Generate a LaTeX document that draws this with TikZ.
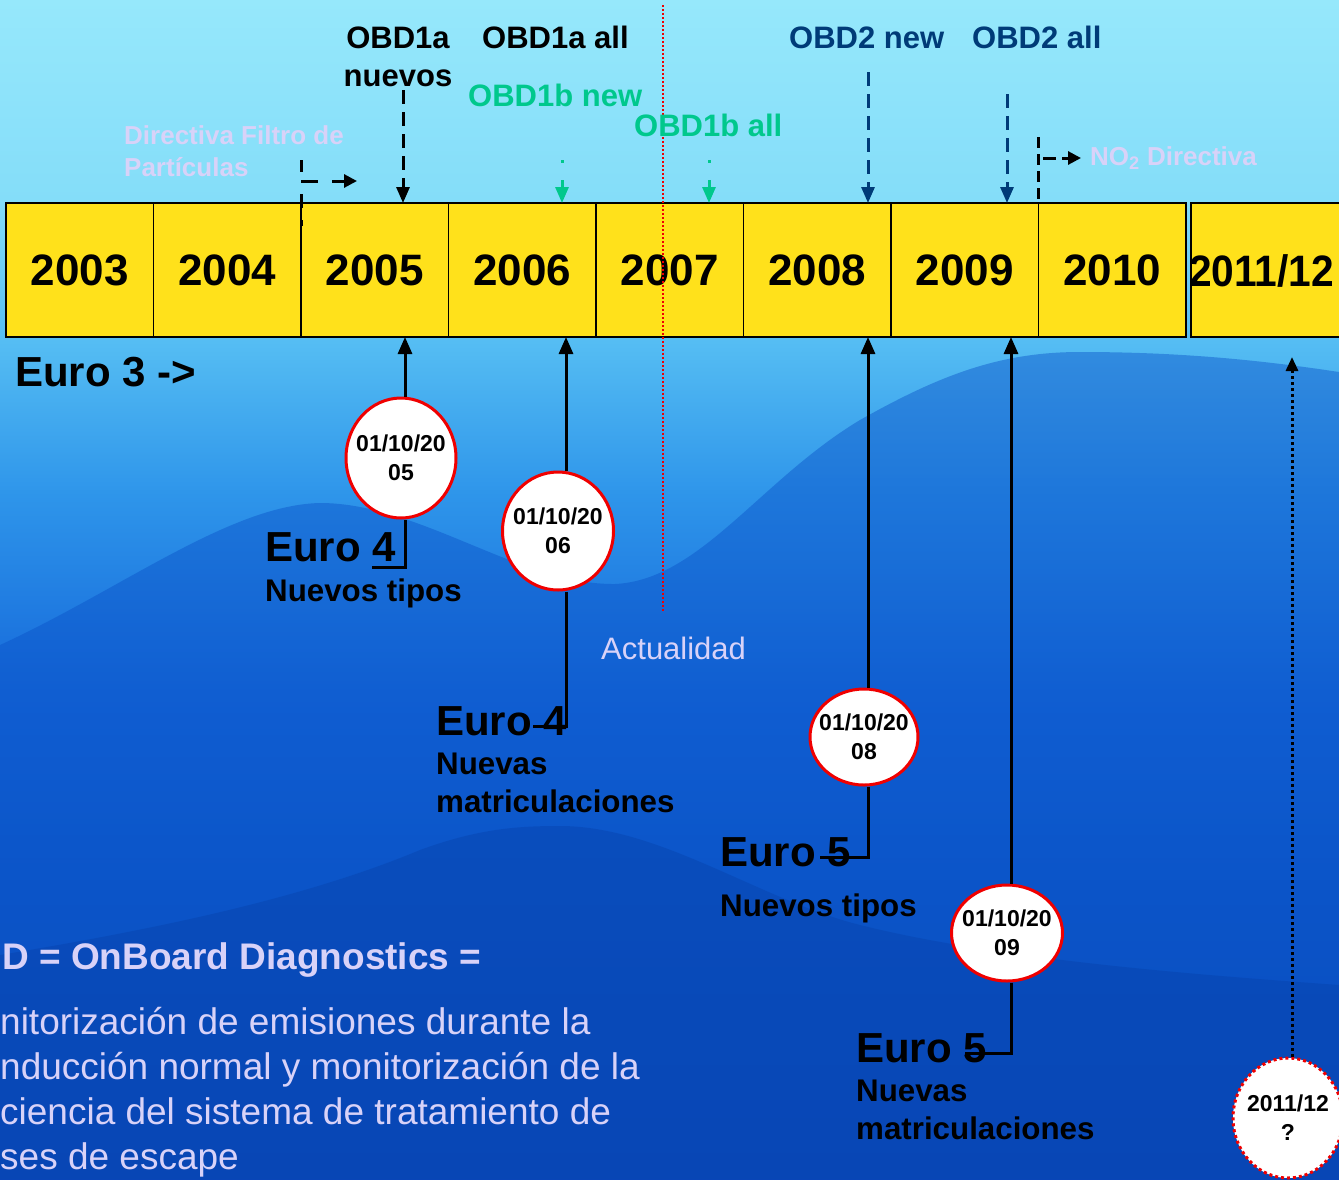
\documentclass[tikz,border=0pt]{standalone}
\usepackage{fontspec}
\setmainfont{Liberation Sans}
\usetikzlibrary{shapes.geometric,arrows.meta,calc}
\definecolor{boxyellow}{HTML}{FFE11B}
\definecolor{obdgreen}{HTML}{00C88C}
\definecolor{obdblue}{HTML}{003B78}
\definecolor{lav}{HTML}{D8D2F8}
\definecolor{circred}{HTML}{F00000}
\definecolor{bgA}{HTML}{0A46B8}
\definecolor{bgB}{HTML}{0C56C8}
\definecolor{bgC}{HTML}{1568DA}
\definecolor{bgD}{HTML}{2E95EA}
\definecolor{bgE}{HTML}{55BDF3}
\definecolor{bgF}{HTML}{84DDF9}
\definecolor{bgG}{HTML}{96E8FB}
\definecolor{hillA}{HTML}{0A52C8}
\definecolor{hillB}{HTML}{0640A8}
\pgfdeclareverticalshading{bgsh}{100bp}{color(0bp)=(bgA); color(25bp)=(bgA); color(37bp)=(bgB); color(45.5bp)=(bgC); color(54bp)=(bgD); color(60.5bp)=(bgE); color(66.5bp)=(bgF); color(75bp)=(bgG); color(100bp)=(bgG)}
\begin{document}
\begin{tikzpicture}[x=1pt,y=-1pt,
  yearbox/.style={draw=black, line width=1.5pt, fill=boxyellow, minimum width=147.5pt, minimum height=134pt, inner sep=0pt, outer sep=0pt, anchor=north west, font=\bfseries\fontsize{44}{50}\selectfont},
  datecirc/.style={ellipse, draw=circred, line width=3pt, fill=white, inner sep=0pt},
  datetxt/.style={align=center, inner sep=0pt, font=\bfseries\fontsize{23}{29}\selectfont},
  lbl/.style={inner sep=0pt, anchor=base west},
  bigeuro/.style={lbl, font=\bfseries\fontsize{42}{48}\selectfont},
  subtxt/.style={font=\bfseries\fontsize{31.3}{38}\selectfont, align=left, inner sep=0pt},
  obdtxt/.style={lbl, font=\bfseries\fontsize{31}{38}\selectfont},
  conn/.style={line width=3pt},
  uparr/.style={line width=3pt, -{Triangle[length=17pt,width=14pt]}},
  dashdown/.style={line width=3pt, dash pattern=on 14pt off 8pt, -{Triangle[length=16pt,width=13pt]}},
  dashplain/.style={line width=3pt, dash pattern=on 14pt off 8pt}
]
\useasboundingbox (0,0) rectangle (1339,1179);
% background
\shade[shading=bgsh] (0,0) rectangle (1339,1179);
\fill[hillA, opacity=0.45] (0,645) .. controls (120,590) and (230,505) .. (320,503) .. controls (420,503) and (520,585) .. (615,584) .. controls (700,580) and (760,480) .. (860,420) .. controls (940,375) and (1000,352) .. (1080,352) .. controls (1180,352) and (1260,360) .. (1339,372) -- (1339,1179) -- (0,1179) -- cycle;
\fill[hillB, opacity=0.4] (0,955) .. controls (150,930) and (300,900) .. (420,850) .. controls (480,828) and (520,826) .. (560,826) .. controls (660,826) and (760,900) .. (860,925) .. controls (1000,960) and (1200,975) .. (1339,985) -- (1339,1179) -- (0,1179) -- cycle;

% year boxes
\node[yearbox] (y2003) at (6,203) {2003};
\node[yearbox] (y2004) at (153.5,203) {2004};
\node[yearbox] (y2005) at (301,203) {2005};
\node[yearbox] (y2006) at (448.5,203) {2006};
\node[yearbox] (y2007) at (596,203) {2007};
\node[yearbox] (y2008) at (743.5,203) {2008};
\node[yearbox] (y2009) at (891,203) {2009};
\node[yearbox] (y2010) at (1038.5,203) {2010};
\node[yearbox, minimum width=160pt] (y2011) at (1191,203) {};
\node[inner sep=0pt, font=\bfseries\fontsize{44}{50}\selectfont, anchor=west] (t2011) at (1189,271) {\scalebox{0.925}[1]{2011/12}};

% Actualidad line
\coordinate (act1) at (663,5);
\coordinate (act2) at (663,612);
\draw[circred, line width=2pt, dash pattern=on 2pt off 2pt] (act1) -- (act2);
\node[lbl, text=lav, font=\fontsize{31}{38}\selectfont] (actual) at (601,659) {Actualidad};

% top labels
\node[font=\bfseries\fontsize{31}{38}\selectfont, align=center, inner sep=0pt] (obd1a) at (398,57) {OBD1a\\nuevos};
\node[obdtxt] (obd1aall) at (482,48) {OBD1a all};
\node[obdtxt, text=obdgreen] (obd1bnew) at (468,106) {OBD1b new};
\node[obdtxt, text=obdgreen] (obd1ball) at (634,136) {OBD1b all};
\node[obdtxt, text=obdblue] (obd2new) at (789,48) {OBD2 new};
\node[obdtxt, text=obdblue] (obd2all) at (972,48) {OBD2 all};
\node[font=\bfseries\fontsize{26}{32}\selectfont, align=left, inner sep=0pt, anchor=west, text=lav] (dfp) at (124,151) {Directiva Filtro de\\Partículas};
\node[lbl, text=lav, font=\bfseries\fontsize{26}{32}\selectfont] (no2) at (1090,165) {NO\textsubscript{2} Directiva};

% top arrows
\coordinate (s1) at (403,90);
\draw[dashdown] (s1) -- (s1 |- y2005.north);
\coordinate (s2) at (562,160);
\draw[dashdown, obdgreen, dash pattern=on 3pt off 17pt on 40pt] (s2) -- (s2 |- y2006.north);
\coordinate (s3) at (709,160);
\draw[dashdown, obdgreen, dash pattern=on 3pt off 17pt on 40pt] (s3) -- (s3 |- y2007.north);
\coordinate (s4) at (868,72);
\draw[dashdown, obdblue] (s4) -- (s4 |- y2008.north);
\coordinate (s5) at (1007,94);
\draw[dashdown, obdblue] (s5) -- (s5 |- y2009.north);
% directiva filtro bracket
\coordinate (d1) at (301,160);
\coordinate (d2) at (301,226);
\coordinate (d3) at (301,181);
\coordinate (d4) at (357,181);
\draw[dashplain, dash pattern=on 12pt off 22pt on 14pt] (d1) -- (d2);
\draw[line width=3pt, dash pattern=on 17pt off 14pt, -{Triangle[length=13pt,width=13pt]}] (d3) -- (d4);
% NO2 bracket
\coordinate (n1) at (1038,137);
\coordinate (n2) at (1038,203);
\coordinate (n3) at (1043,158);
\coordinate (n4) at (1081,158);
\draw[dashplain, dash pattern=on 11pt off 6pt] (n1) -- (n2);
\draw[line width=3pt, dash pattern=on 13pt off 6pt, -{Triangle[length=13pt,width=13pt]}] (n3) -- (n4);

% Euro 3
\node[bigeuro] (e3) at (15,386) {Euro 3 ->};

% date circles
\node[datecirc, minimum width=110pt, minimum height=120pt] (c1) at (401,458) {};
\node[datetxt] (c1t) at (c1.center) {01/10/20\\05};
\node[datecirc, minimum width=111pt, minimum height=118pt] (c2) at (558,531) {};
\node[datetxt] (c2t) at (c2.center) {01/10/20\\06};
\node[datecirc, minimum width=108pt, minimum height=96pt] (c3) at (864,737) {};
\node[datetxt] (c3t) at (c3.center) {01/10/20\\08};
\node[datecirc, minimum width=111pt, minimum height=96pt] (c4) at (1007,933) {};
\node[datetxt] (c4t) at (c4.center) {01/10/20\\09};
\node[datecirc, minimum width=110pt, minimum height=120pt, dash pattern=on 3pt off 3pt] (c5) at (1288,1118) {};
\node[datetxt] (c5t) at (c5.center) {2011/12\\?};

% vertical connectors
\coordinate (x1) at (405,0);
\coordinate (x2) at (566,0);
\coordinate (x3) at (868,0);
\coordinate (x4) at (1011,0);
\coordinate (x5) at (1292,0);
\draw[uparr] (c1.north -| x1) -- (x1 |- y2005.south);
\draw[uparr] (c2.north -| x2) -- (x2 |- y2006.south);
\draw[uparr] (c3.north -| x3) -- (x3 |- y2008.south);
\draw[uparr] (c4.north -| x4) -- (x4 |- y2009.south);
\coordinate (top5) at (1292,357);
\draw[line width=3pt, dash pattern=on 3pt off 3pt, -{Triangle[length=14pt,width=12pt]}] (c5.north -| x5) -- (top5);

% hooks
\coordinate (h1) at (372,567);
\coordinate (h2) at (533,726);
\coordinate (h3) at (820,857);
\coordinate (h4) at (965,1053);
\draw[conn] (c1.south -| x1) |- (h1);
\draw[conn] (c2.south -| x2) |- (h2);
\draw[conn] (c3.south -| x3) |- (h3);
\draw[conn] (c4.south -| x4) |- (h4);

% Euro labels
\node[bigeuro] (eu4a) at (265,561) {Euro 4};
\node[subtxt, anchor=base west] (eu4at) at (265,601) {Nuevos tipos};
\node[bigeuro] (eu4b) at (436,735) {Euro 4};
\node[subtxt, anchor=north west] (eu4bt) at (436,753) {Nuevas\\matriculaciones};
\node[bigeuro] (eu5a) at (720,866) {Euro 5};
\node[subtxt, anchor=base west] (eu5at) at (720,916) {Nuevos tipos};
\node[bigeuro] (eu5b) at (856,1062) {Euro 5};
\node[subtxt, anchor=north west] (eu5bt) at (856,1080) {Nuevas\\matriculaciones};

% OBD definition
\node[lbl, text=lav, font=\bfseries\fontsize{37}{44}\selectfont] (obddef) at (2,969) {D = OnBoard Diagnostics =};
\node[text=lav, font=\fontsize{37}{45}\selectfont, align=left, inner sep=0pt, anchor=north west] (obdbody) at (0,1007) {nitorización de emisiones durante la\\nducción normal y monitorización de la\\ciencia del sistema de tratamiento de\\ses de escape};
\end{tikzpicture}
\end{document}
